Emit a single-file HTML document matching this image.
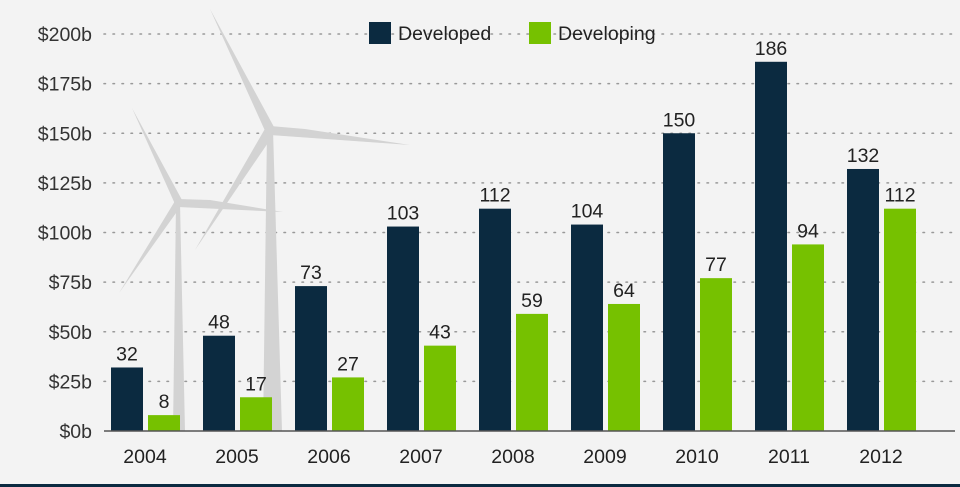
<!DOCTYPE html>
<html><head><meta charset="utf-8"><style>
html,body{margin:0;padding:0;background:#f3f3f3;}
svg{display:block;font-family:"Liberation Sans",Arial,sans-serif;}
</style></head><body>
<svg id="chart" width="960" height="487" viewBox="0 0 960 487">
<rect x="0" y="0" width="960" height="487" fill="#f3f3f3"/>
<g id="grid"></g>
<g id="windmills" fill="#d3d3d3">
  <polygon points="176,203 180,203 185,431 173,431"/>
  <polygon points="132,108 182,200 175,204"/>
  <polygon points="178,199 210,200 283,212 178,207"/>
  <polygon points="175,201 181,206 119,293"/>
  <circle cx="178" cy="203" r="4"/>
  <polygon points="267,130 273,130 282,431 263,431"/>
  <polygon points="210,9 274,127 266,133"/>
  <polygon points="270,126 305,129 410,145 270,135"/>
  <polygon points="266,127 274,134 195,250"/>
  <circle cx="270" cy="130" r="5"/>
</g>
<g id="bars"></g>
<g id="axes"></g>
<g>
  <rect x="369" y="22" width="22" height="22" fill="#0b2a40"/>
  <text x="398" y="40" font-size="19.5" fill="#222">Developed</text>
  <rect x="529" y="22" width="22" height="22" fill="#76c100"/>
  <text x="558" y="40" font-size="19.5" fill="#222">Developing</text>
</g>
<rect x="0" y="484" width="960" height="3" fill="#0b2a40"/>
</svg>
<script>
const categories=["2004","2005","2006","2007","2008","2009","2010","2011","2012"];
const developed=[32,48,73,103,112,104,150,186,132];
const developing=[8,17,27,43,59,64,77,94,112];
const yTicks=[0,25,50,75,100,125,150,175,200];
const yTickLabels=["$0b","$25b","$50b","$75b","$100b","$125b","$150b","$175b","$200b"];

const NS="http://www.w3.org/2000/svg";
const y0=431, y200=34, yMax=200;
function yScale(v){return y0-(v/yMax)*(y0-y200);}
function xCenter(i){return 145+i*92;}
function mk(tag,attrs,parent){const e=document.createElementNS(NS,tag);for(const k in attrs)e.setAttribute(k,attrs[k]);parent.appendChild(e);return e;}

const grid=document.getElementById('grid'),bars=document.getElementById('bars'),axes=document.getElementById('axes');
yTicks.forEach((t,i)=>{
  const y=yScale(t);
  if(t>0){
    const l=mk('line',{x1:104,x2:955,y1:y,y2:y,stroke:'#999','stroke-width':1.6,'stroke-dasharray':'1.5 7.5','stroke-linecap':'round'},grid);
    
    
  }
  const tx=mk('text',{x:92,y:y+7,'text-anchor':'end','font-size':19.5,fill:'#333'},axes);
  tx.textContent=yTickLabels[i];
  
  
});
const base=mk('line',{x1:104,x2:955,y1:y0,y2:y0,stroke:'#555','stroke-width':1.5},axes);



categories.forEach((c,i)=>{
  const cx=xCenter(i);
  const sets=[[developed[i],cx-34,'#0b2a40','developed'],[developing[i],cx+3,'#76c100','developing']];
  sets.forEach(([v,x,col,n])=>{
    const y=yScale(v);
    const r=mk('rect',{x:x,y:y,width:32,height:y0-y,fill:col},bars);
    
    
    const t=mk('text',{x:x+16,y:y-7,'text-anchor':'middle','font-size':19.5,fill:'#222'},bars);
    t.textContent=v;
    
    
  });
  const xl=mk('text',{x:cx,y:463,'text-anchor':'middle','font-size':19.5,fill:'#222'},axes);
  xl.textContent=c;
  
  
});
</script>
</body></html>
